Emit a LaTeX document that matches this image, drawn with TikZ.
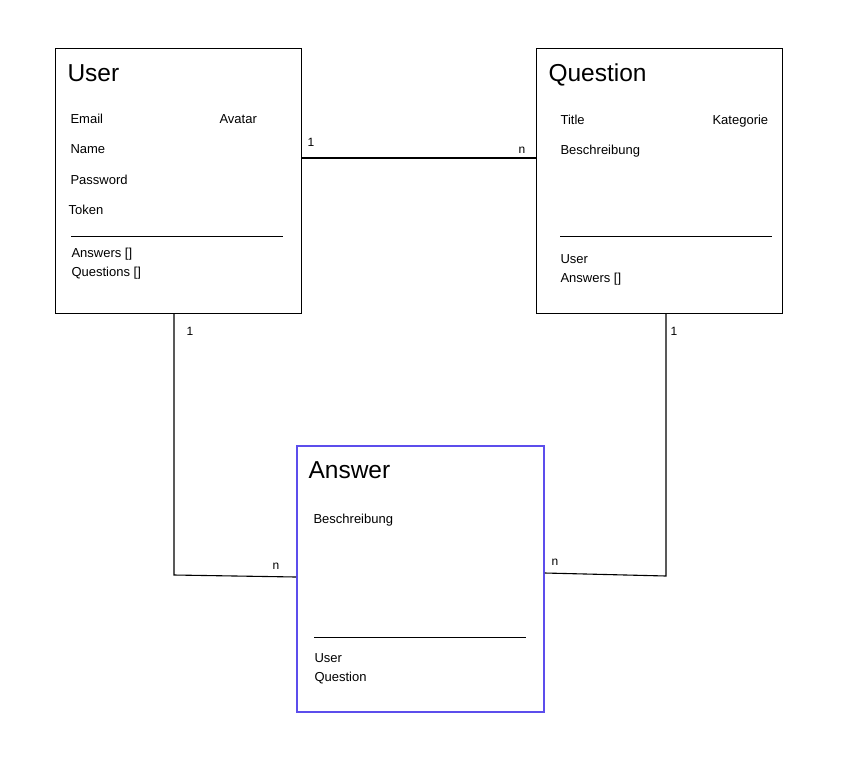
\documentclass[tikz,border=0pt]{standalone}
\usepackage{fontspec}
\setmainfont{Liberation Sans}
\usetikzlibrary{calc}
\definecolor{answerblue}{RGB}{92,78,236}
\begin{document}
\begin{tikzpicture}[x=1pt,y=-1pt,line width=1.1pt,
  entity/.style={draw=black,minimum width=246pt,minimum height=265pt,anchor=north west,inner sep=0pt},
  title/.style={anchor=base west,inner sep=0pt,font=\fontsize{24.5}{26}\selectfont},
  field/.style={anchor=base west,inner sep=0pt,font=\fontsize{13}{15}\selectfont},
  mult/.style={anchor=base west,inner sep=0pt,font=\fontsize{12}{14}\selectfont}]
\useasboundingbox[fill=white] (0,0) rectangle (849,764);

% Boxes
\node[entity] (user) at (55,48) {};
\node[entity] (question) at (536,48) {};
\node[entity,draw=answerblue,line width=1.8pt,minimum width=247pt,minimum height=266pt] (answer) at (296,445) {};

% User content
\node[title] (ut) at (67,81) {User};
\node[field] (uemail) at (70,123) {Email};
\node[field] (uavatar) at (219,123) {Avatar};
\node[field] (uname) at (70,153) {Name};
\node[field] (upw) at (70,184) {Password};
\node[field] (utok) at (68,214) {Token};
\draw[line width=1pt] (71,236) -- (283,236);
\node[field] (uans) at (71,257) {Answers []};
\node[field] (uq) at (71,276) {Questions []};

% Question content
\node[title] (qt) at (548,81) {Question};
\node[field] (qtitle) at (560,124) {Title};
\node[field] (qkat) at (712,124) {Kategorie};
\node[field] (qbes) at (560,154) {Beschreibung};
\draw[line width=1pt] (560,236) -- (772,236);
\node[field] (quser) at (560,263) {User};
\node[field] (qans) at (560,282) {Answers []};

% Answer content
\node[title] (at) at (308,478) {Answer};
\node[field] (abes) at (313,523) {Beschreibung};
\draw[line width=1pt] (314,637) -- (526,637);
\node[field] (auser) at (314,662) {User};
\node[field] (aq) at (314,681) {Question};

% Connectors
\coordinate (uqy) at (0,158);
\draw (user.east |- uqy) -- (question.west |- uqy);
\node[mult] (m1) at (307,146) {1};
\node[mult] (m2) at (518,153) {n};

\coordinate (ua) at (174,575);
\draw (user.south -| ua) -- (ua) -- (answer.west |- 0,577);
\node[mult] (m3) at (186,335) {1};
\node[mult] (m4) at (272,569) {n};

\coordinate (qa) at (666,576);
\draw (question.south -| qa) -- (qa) -- (answer.east |- 0,573);
\node[mult] (m5) at (670,335) {1};
\node[mult] (m6) at (551,565) {n};
\end{tikzpicture}
\end{document}
